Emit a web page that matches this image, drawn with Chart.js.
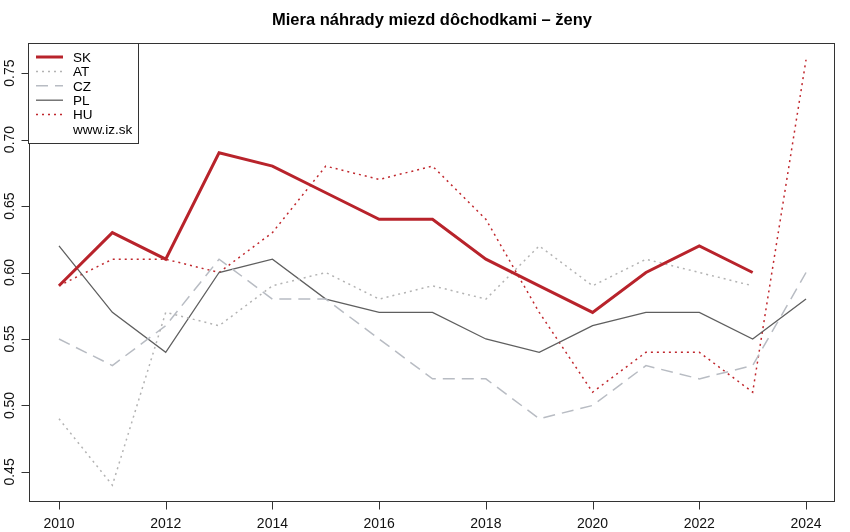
<!DOCTYPE html>
<html lang="sk">
<head>
<meta charset="UTF-8">
<title>Miera náhrady miezd dôchodkami – ženy</title>
<script src="https://cdn.jsdelivr.net/npm/chart.js"></script>
<style>
  html, body { margin: 0; padding: 0; background: #ffffff; }
  #wrap { width: 850px; height: 532px; position: relative; }
</style>
</head>
<body>
<div id="wrap"><canvas id="chart"></canvas></div>
<script>
// data
const years = [2010, 2011, 2012, 2013, 2014, 2015, 2016, 2017, 2018, 2019, 2020, 2021, 2022, 2023, 2024];
const sk = [0.59, 0.63, 0.61, 0.69, 0.68, 0.66, 0.64, 0.64, 0.61, 0.59, 0.57, 0.60, 0.62, 0.60, null];
const at = [0.49, 0.44, 0.57, 0.56, 0.59, 0.60, 0.58, 0.59, 0.58, 0.62, 0.59, 0.61, 0.60, 0.59, null];
const cz = [0.55, 0.53, 0.56, 0.61, 0.58, 0.58, 0.55, 0.52, 0.52, 0.49, 0.50, 0.53, 0.52, 0.53, 0.60];
const pl = [0.62, 0.57, 0.54, 0.60, 0.61, 0.58, 0.57, 0.57, 0.55, 0.54, 0.56, 0.57, 0.57, 0.55, 0.58];
const hu = [0.59, 0.61, 0.61, 0.60, 0.63, 0.68, 0.67, 0.68, 0.64, 0.57, 0.51, 0.54, 0.54, 0.51, 0.76];
const xTicks = [2010, 2012, 2014, 2016, 2018, 2020, 2022, 2024];
const yTicks = [0.45, 0.50, 0.55, 0.60, 0.65, 0.70, 0.75];
const title = 'Miera náhrady miezd dôchodkami – ženy';
const sourceNote = 'www.iz.sk';

const FONT = '"Liberation Sans", Arial, Helvetica, sans-serif';

const series = [
  { label: 'SK', data: sk, color: '#b8232b', width: 3,   dash: [] },
  { label: 'AT', data: at, color: '#b3b3b3', width: 1.5, dash: [2, 4] },
  { label: 'CZ', data: cz, color: '#b8bcc3', width: 1.5, dash: [12, 7] },
  { label: 'PL', data: pl, color: '#5f5f5f', width: 1.3, dash: [] },
  { label: 'HU', data: hu, color: '#c0272d', width: 1.5, dash: [2, 4] }
];

const toPoints = arr => years.map((y, i) => ({ x: y, y: arr[i] }));

// R-style frame, axes, title and legend
const rStyle = {
  id: 'rStyle',
  afterDraw(chart) {
    const ctx = chart.ctx;
    const a = chart.chartArea;
    const xs = chart.scales.x, ys = chart.scales.y;
    ctx.save();

    // box
    ctx.strokeStyle = '#333';
    ctx.lineWidth = 1;
    ctx.strokeRect(a.left + 0.5, a.top + 0.5, a.right - a.left - 1, a.bottom - a.top - 1);

    // x axis
    ctx.font = '14px ' + FONT;
    ctx.fillStyle = '#111';
    ctx.textAlign = 'center';
    ctx.textBaseline = 'middle';
    const xb = a.bottom - 0.5;
    ctx.beginPath();
    xTicks.forEach(t => {
      const px = Math.round(xs.getPixelForValue(t)) + 0.5;
      ctx.moveTo(px, xb);
      ctx.lineTo(px, xb + 8);
    });
    ctx.stroke();
    xTicks.forEach(t => ctx.fillText(String(t), xs.getPixelForValue(t), a.bottom + 22));

    // y axis
    const yl = a.left + 0.5;
    ctx.beginPath();
    yTicks.forEach(t => {
      const py = Math.round(ys.getPixelForValue(t)) + 0.5;
      ctx.moveTo(yl, py);
      ctx.lineTo(yl - 8, py);
    });
    ctx.stroke();
    yTicks.forEach(t => {
      ctx.save();
      ctx.translate(a.left - 19, ys.getPixelForValue(t));
      ctx.rotate(-Math.PI / 2);
      ctx.fillText(t.toFixed(2), 0, 0);
      ctx.restore();
    });

    // title
    ctx.font = 'bold 16.5px ' + FONT;
    ctx.fillStyle = '#000';
    ctx.fillText(title, (a.left + a.right) / 2, 20);

    // legend
    const lx = a.left - 1, ly = a.top, lw = 110, lh = 100;
    ctx.fillStyle = '#fff';
    ctx.fillRect(lx, ly, lw, lh);
    ctx.strokeStyle = '#333';
    ctx.lineWidth = 1;
    ctx.strokeRect(lx + 0.5, ly + 0.5, lw, lh);
    ctx.font = '13.5px ' + FONT;
    ctx.textAlign = 'left';
    const rows = series.map(s => s).concat([{ label: sourceNote }]);
    rows.forEach((s, i) => {
      const ry = ly + 14 + i * 14.4;
      if (s.color) {
        ctx.strokeStyle = s.color;
        ctx.lineWidth = s.width;
        ctx.setLineDash(s.dash);
        ctx.beginPath();
        ctx.moveTo(lx + 8, ry);
        ctx.lineTo(lx + 35, ry);
        ctx.stroke();
        ctx.setLineDash([]);
      }
      ctx.fillStyle = '#000';
      ctx.fillText(s.label, lx + 45, ry + 1);
    });

    ctx.restore();
  }
};

new Chart(document.getElementById('chart'), {
  type: 'line',
  data: {
    datasets: series.map(s => ({
      label: s.label,
      data: toPoints(s.data),
      borderColor: s.color,
      borderWidth: s.width,
      borderDash: s.dash,
      pointRadius: 0,
      tension: 0,
      spanGaps: false,
      fill: false
    }))
  },
  options: {
    responsive: true,
    maintainAspectRatio: false,
    animation: false,
    layout: { padding: { left: 29, right: 15, top: 43, bottom: 30 } },
    scales: {
      x: { type: 'linear', display: false, min: 2009.438, max: 2024.543 },
      y: { type: 'linear', display: false, min: 0.4274, max: 0.7726 }
    },
    plugins: {
      legend: { display: false },
      title: { display: false },
      tooltip: { enabled: false }
    }
  },
  plugins: [rStyle]
});
</script>
</body>
</html>
